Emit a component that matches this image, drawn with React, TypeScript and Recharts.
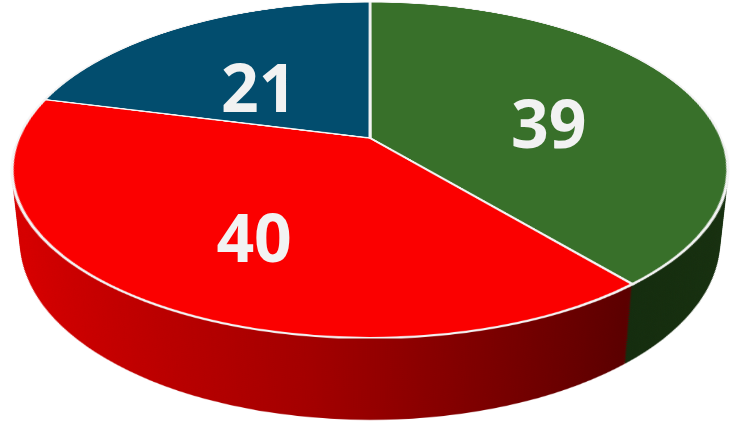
import { PieChart, Pie, Cell } from "recharts";

const categories = ["Green", "Red", "Blue"];
const values = [39, 40, 21];
const topColors = ["#38702a", "#fb0000", "#024d6e"];
const sideColors = ["url(#sideGreen)", "url(#sideRed)", "url(#sideBlue)"];

const rows = categories.map((name, i) => ({ name, value: values[i] }));

// 3d view of the disc
const W = 730;
const H = 425;
const CX = 370;
const CY = 138;
const R = 351.4;
const S = 704;
const TILT = 62.57;
const PERSP = 1637;
const DEPTH = 82;
const STEP = 2;
const COS_T = Math.cos((TILT * Math.PI) / 180);
const Q = PERSP / Math.sin((TILT * Math.PI) / 180);
const layers = Array.from({ length: Math.floor(DEPTH / STEP) }, (_, i) => DEPTH - i * STEP);
const noMargin = { top: 0, right: 0, bottom: 0, left: 0 };

const RAD = Math.PI / 180;

// label sits on the tilted disc, project its point to screen but keep the text upright
const renderLabel = (props: any) => {
  const { cx, cy, midAngle, outerRadius, value } = props;
  const r = outerRadius * 0.56;
  const px = r * Math.cos(-midAngle * RAD);
  const py = r * Math.sin(-midAngle * RAD);
  const f = 1 / (1 - py / Q);
  const x = cx + px * f;
  const y = cy + py * COS_T * f + 14;
  return (
    <text
      x={x}
      y={y}
      textAnchor="middle"
      dominantBaseline="central"
      fill="#f2f2f2"
      fontFamily="'Open Sans', sans-serif"
      fontWeight={700}
      fontSize={66}
    >
      {value}
    </text>
  );
};

function Disc({ colors, top }: { colors: string[]; top?: boolean }) {
  return (
    <PieChart width={S} height={S} margin={noMargin}>
      <defs>
        <linearGradient id="sideRed" gradientUnits="userSpaceOnUse" x1={30} y1={0} x2={575} y2={0}>
          <stop offset="0%" stopColor="#d60000" />
          <stop offset="50%" stopColor="#a30000" />
          <stop offset="100%" stopColor="#5a0000" />
        </linearGradient>
        <linearGradient id="sideGreen" gradientUnits="userSpaceOnUse" x1={560} y1={0} x2={704} y2={0}>
          <stop offset="0%" stopColor="#142c0e" />
          <stop offset="100%" stopColor="#17300f" />
        </linearGradient>
        <linearGradient id="sideBlue" gradientUnits="userSpaceOnUse" x1={0} y1={0} x2={704} y2={0}>
          <stop offset="0%" stopColor="#013650" />
          <stop offset="100%" stopColor="#012a3e" />
        </linearGradient>
      </defs>
      <Pie
        data={rows}
        dataKey="value"
        nameKey="name"
        cx={S / 2}
        cy={S / 2}
        outerRadius={R}
        startAngle={90}
        endAngle={-270}
        stroke={top ? "#f4f4f4" : "none"}
        strokeWidth={top ? 3 : 0}
        isAnimationActive={false}
      >
        {rows.map((r, i) => (
          <Cell key={r.name} fill={colors[i]} />
        ))}
      </Pie>
    </PieChart>
  );
}

export default function App() {
  return (
    <div style={{ position: "absolute", left: 0, top: 0, width: W, height: H, overflow: "hidden", background: "#fff" }}>
      <div
        style={{
          position: "absolute",
          inset: 0,
          perspective: `${PERSP}px`,
          perspectiveOrigin: `${CX}px ${CY}px`,
        }}
      >
        <div
          style={{
            position: "absolute",
            left: CX - S / 2,
            top: CY - S / 2,
            width: S,
            height: S,
            transformOrigin: "50% 50%",
            transform: `rotateX(${TILT}deg)`,
            transformStyle: "preserve-3d",
          }}
        >
          {layers.map((h) => (
            <div key={h} style={{ position: "absolute", left: 0, top: 0, transform: `translateZ(${-h}px)` }}>
              <Disc colors={sideColors} />
            </div>
          ))}
          <div style={{ position: "absolute", left: 0, top: 0, transform: "translateZ(0px)" }}>
            <Disc colors={topColors} top />
          </div>
        </div>
      </div>
      <div style={{ position: "absolute", left: 0, top: 0 }}>
        <PieChart width={W} height={H} margin={noMargin}>
          <Pie
            data={rows}
            dataKey="value"
            nameKey="name"
            cx={CX}
            cy={CY}
            outerRadius={R}
            startAngle={90}
            endAngle={-270}
            fill="none"
            stroke="none"
            label={renderLabel}
            labelLine={false}
            isAnimationActive={false}
          />
        </PieChart>
      </div>
    </div>
  );
}
